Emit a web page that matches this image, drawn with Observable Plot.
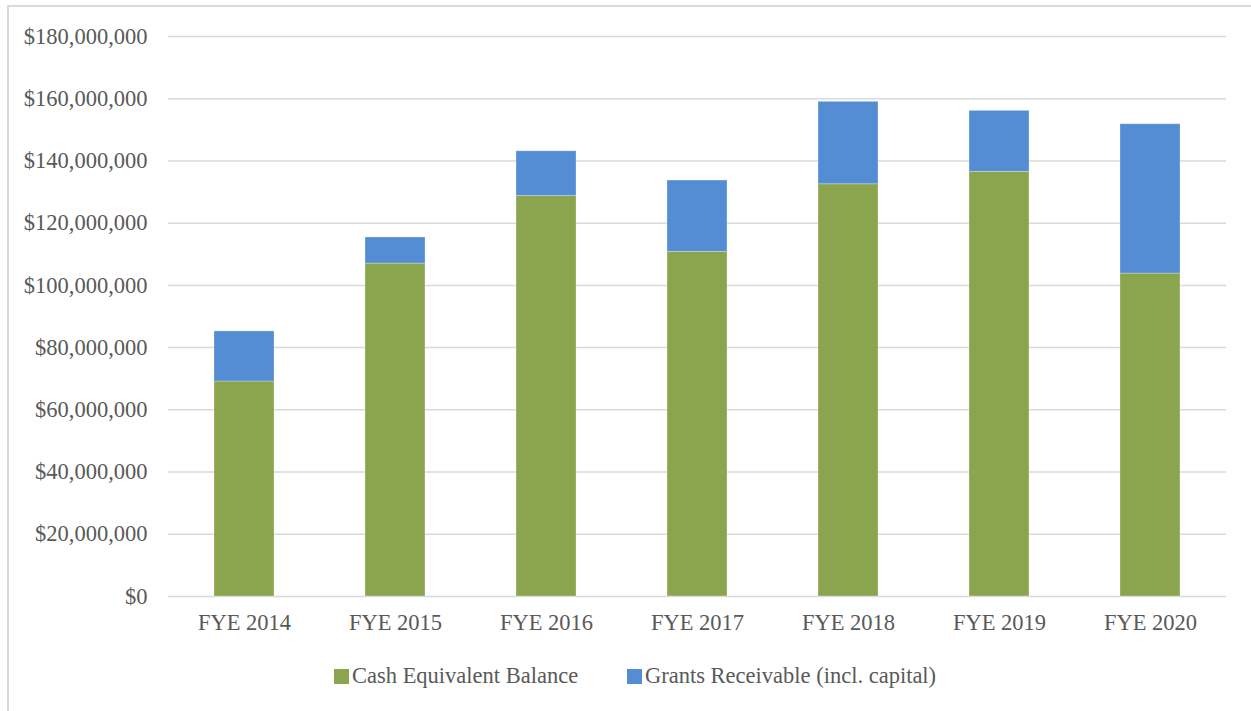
<!DOCTYPE html>
<html>
<head>
<meta charset="utf-8">
<script src="https://cdn.jsdelivr.net/npm/d3@7"></script>
<script src="https://cdn.jsdelivr.net/npm/@observablehq/plot@0.6"></script>
<style>
  html, body { margin: 0; padding: 0; background: #fff; }
  #wrap { position: relative; width: 1251px; height: 711px; overflow: hidden; font-family: "Liberation Serif", "DejaVu Serif", serif; }
  #frame { position: absolute; left: 7px; top: 5px; width: 1400px; height: 900px; border: 2px solid #d9d9d9; box-sizing: border-box; }
  #chart { position: absolute; left: 0; top: 0; }
  #legend { position: absolute; left: 0; top: 663px; width: 1251px; font-size: 22.5px; line-height: 26px; color: #595959; }
  .item { position: absolute; display: flex; align-items: center; white-space: nowrap; }
  .sw { width: 15px; height: 15px; margin-right: 3px; }
</style>
</head>
<body>
<div id="wrap">
  <div id="frame"></div>
  <div id="chart"></div>
  <div id="legend"></div>
</div>
<script>
const years = ["FYE 2014", "FYE 2015", "FYE 2016", "FYE 2017", "FYE 2018", "FYE 2019", "FYE 2020"];
const seriesNames = ["Cash Equivalent Balance", "Grants Receivable (incl. capital)"];
const seriesColors = ["#8AA54E", "#548DD4"];
const cashBalance = [69.1e6, 107.0e6, 128.7e6, 110.8e6, 132.5e6, 136.5e6, 103.8e6];
const grantsReceivable = [16.1e6, 8.4e6, 14.4e6, 22.9e6, 26.5e6, 19.6e6, 48.0e6];
const yTicks = [0, 20e6, 40e6, 60e6, 80e6, 100e6, 120e6, 140e6, 160e6, 180e6];

const rows = [];
years.forEach((y, i) => {
  rows.push({year: y, series: seriesNames[0], value: cashBalance[i]});
  rows.push({year: y, series: seriesNames[1], value: grantsReceivable[i]});
});

const fmt = d3.format("$,");

const chart = Plot.plot({
  width: 1251,
  height: 640,
  marginLeft: 168,
  marginRight: 25,
  marginTop: 36,
  marginBottom: 44,
  style: { fontFamily: "'Liberation Serif', 'DejaVu Serif', serif", fontSize: "22.5px", color: "#595959", background: "transparent", overflow: "visible" },
  x: { domain: years, paddingInner: 0.6, paddingOuter: 0.3, label: null },
  y: { domain: [0, 180e6], ticks: yTicks, tickFormat: fmt, label: null },
  color: { domain: seriesNames, range: seriesColors },
  marks: [
    Plot.gridY(yTicks, { stroke: "#d9d9d9", strokeOpacity: 1, strokeWidth: 1.5 }),
    Plot.barY(rows, { x: "year", y: "value", fill: "series", order: seriesNames, stroke: "#ffffff", strokeOpacity: 0.35, strokeWidth: 0.8 }),
    Plot.axisX({ tickSize: 0, tickPadding: 18, fill: "#595959", fontSize: 22.5 }),
    Plot.axisY({ ticks: yTicks, tickFormat: fmt, tickSize: 0, tickPadding: 21, fill: "#595959", fontSize: 22.5 })
  ]
});
document.getElementById("chart").appendChild(chart);

const legend = document.getElementById("legend");
const lefts = [334, 627];
seriesNames.forEach((name, i) => {
  const it = document.createElement("div");
  it.className = "item";
  it.style.left = lefts[i] + "px";
  const sw = document.createElement("span");
  sw.className = "sw";
  sw.style.background = seriesColors[i];
  const tx = document.createElement("span");
  tx.textContent = name;
  it.appendChild(sw);
  it.appendChild(tx);
  legend.appendChild(it);
});
</script>
</body>
</html>
